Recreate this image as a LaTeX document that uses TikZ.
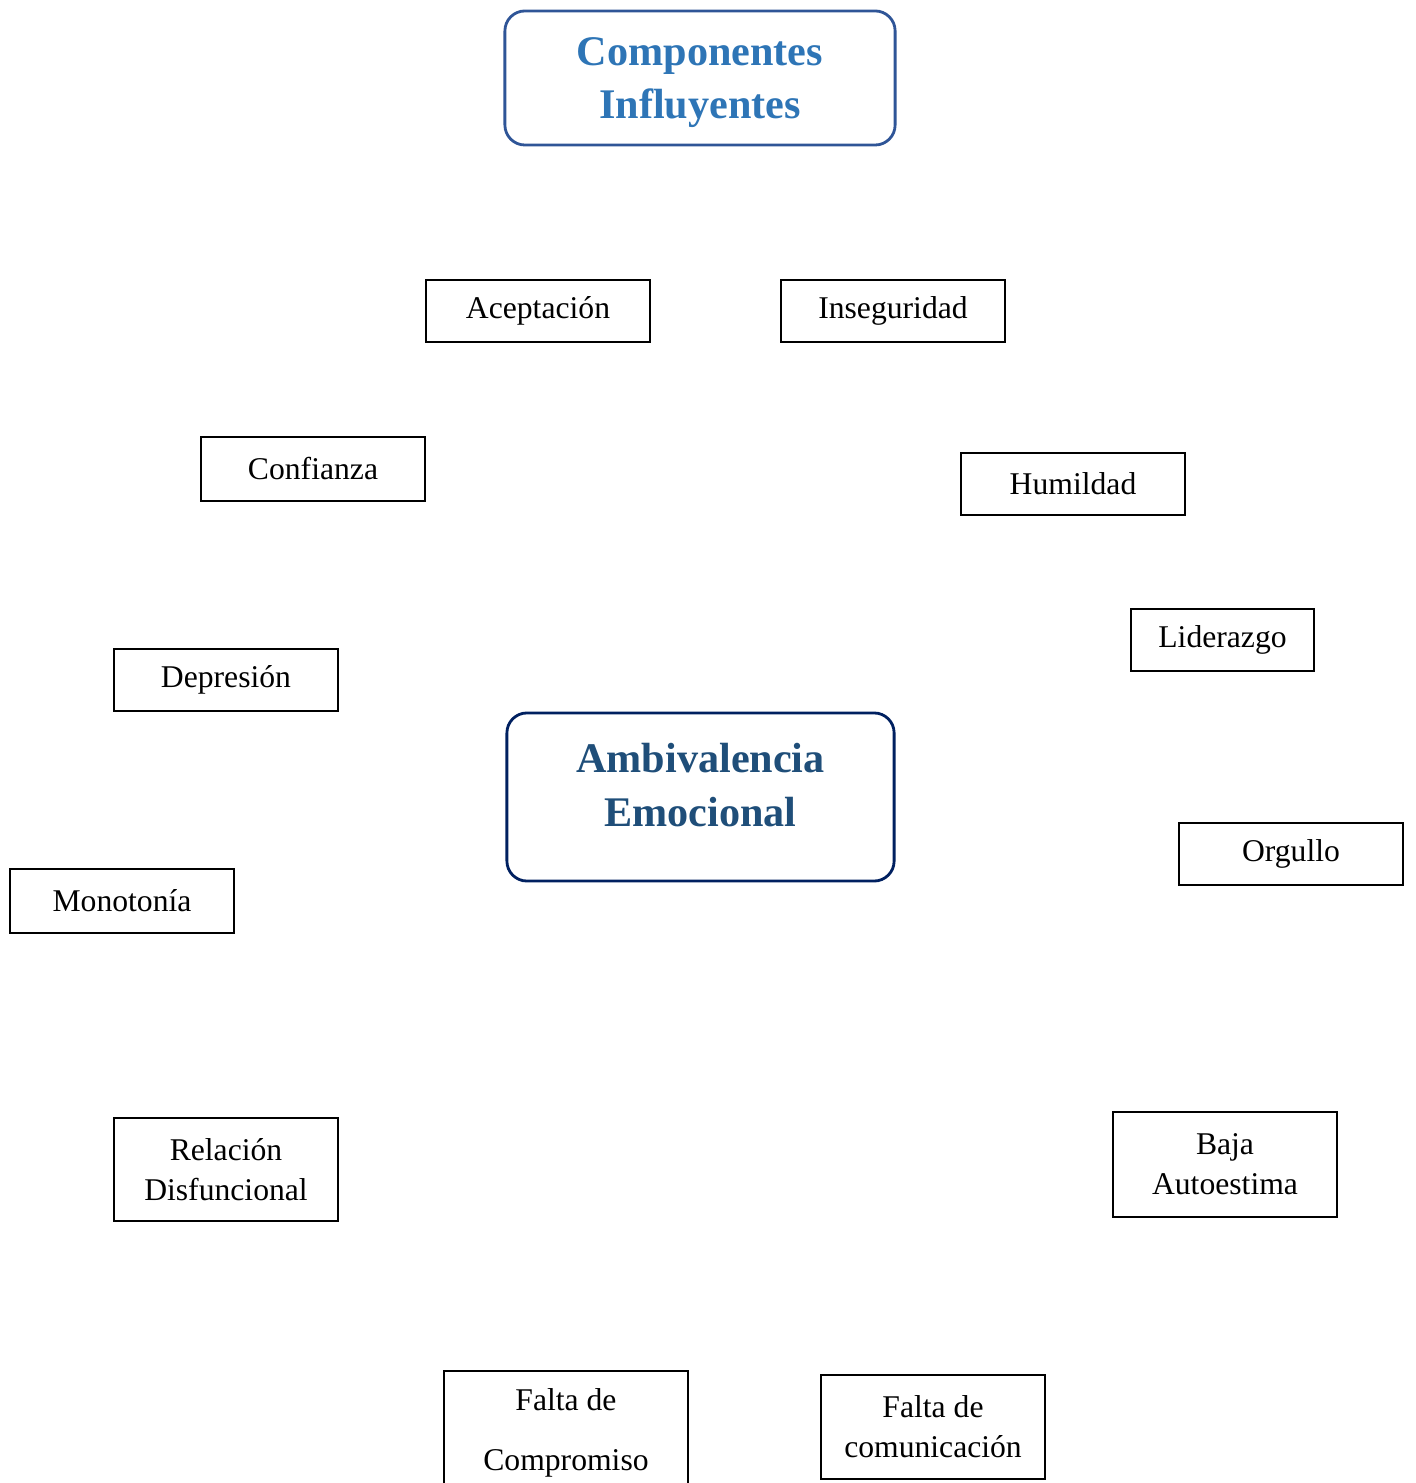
\documentclass[tikz,border=0pt]{standalone}
\usepackage{fontspec}
\setmainfont{Liberation Serif}
\usepackage{tikz}
\usetikzlibrary{positioning}
\definecolor{titleblue}{RGB}{46,117,182}
\definecolor{titleframe}{RGB}{47,85,151}
\definecolor{coreblue}{RGB}{31,78,121}
\definecolor{coreframe}{RGB}{0,32,96}

\tikzset{
  item/.style={draw, line width=0.6pt, minimum width=2.24cm, minimum height=0.62cm,
    align=center, inner sep=2pt, font=\fontsize{9}{11.4}\selectfont},
  headbox/.style={draw, line width=0.8pt, rounded corners=0.2cm, align=center,
    font=\fontsize{12}{15.3}\selectfont\bfseries}
}

\begin{document}
\begin{tikzpicture}[x=0.01cm, y=-0.01cm]
\useasboundingbox (0,0) rectangle (1415,1483);

% Title
\node[headbox, draw=titleframe, text=titleblue, minimum width=3.9cm, minimum height=1.34cm, text depth=-0.03cm]
  (titulo) at (700,78) {Componentes\\Influyentes};

% Center
\node[headbox, draw=coreframe, text=coreblue, minimum width=3.87cm, minimum height=1.68cm, text depth=0.25cm]
  (centro) at (700.5,797) {Ambivalencia\\Emocional};

% Top row
\node[item] (aceptacion) at (538,311) {Aceptación};
\node[item] (inseguridad) at (893,311) {Inseguridad};

% Left side
\node[item, minimum height=0.64cm] (confianza) at (313,469) {Confianza};
\node[item] (depresion) at (226,680) {Depresión};
\node[item, minimum height=0.64cm] (monotonia) at (122,901) {Monotonía};
\node[item, minimum height=1.03cm] (relacion) at (226,1169.5) {Relación\\Disfuncional};

% Right side
\node[item] (humildad) at (1073,484) {Humildad};
\node[item, minimum width=1.83cm] (liderazgo) at (1222.5,640) {Liderazgo};
\node[item] (orgullo) at (1291,854) {Orgullo};
\node[item, minimum height=1.05cm] (autoestima) at (1225,1164.5) {Baja\\Autoestima};

% Bottom row
\node[item, minimum width=2.44cm, minimum height=1.24cm, anchor=north] (compromiso) at (566,1370)
  {Falta de\\[0.2cm]Compromiso};
\node[item, minimum height=1.04cm] (comunicacion) at (933,1427) {Falta de\\comunicación};

\end{tikzpicture}
\end{document}
